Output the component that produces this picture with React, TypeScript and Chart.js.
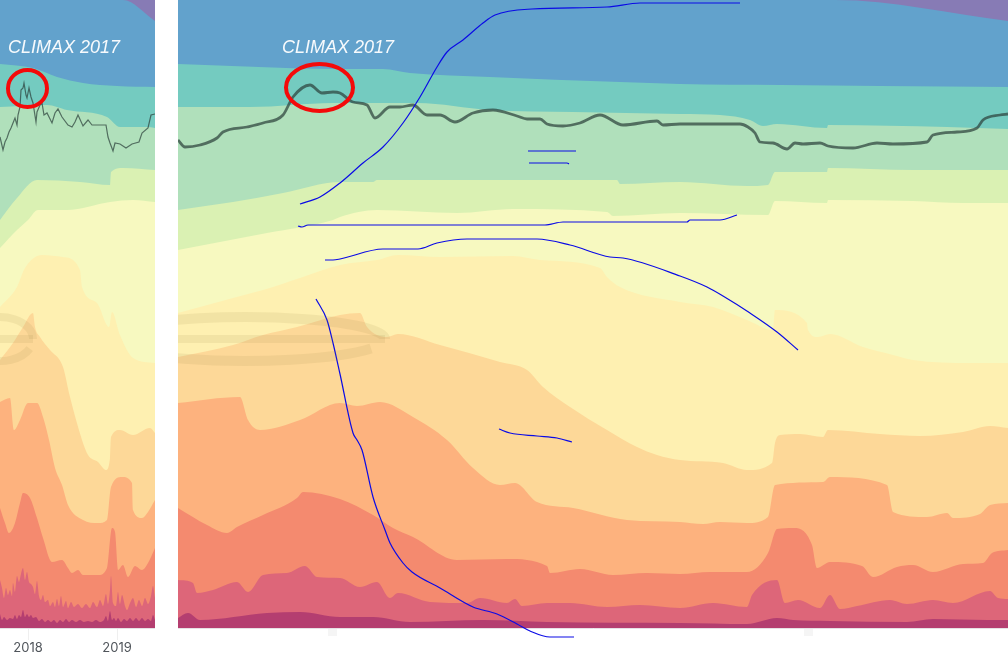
import React, { useEffect, useRef } from "react";
import { Chart, registerables } from "chart.js";

Chart.register(...registerables);

type Pt = [number, number];

const bandColors = ["#b43e70", "#dd6679", "#f48a6f", "#fdb27e", "#fdd898", "#fef0b1", "#f7f9c0", "#daf1b3", "#b0e0bb", "#74cbc0", "#62a2cc", "#877bb5"];
const bandNames = ["1d", "1w", "1m", "3m", "6m", "12m", "18m", "2y", "3y", "5y", "7y", "10y"];

// Left (overview) panel: cumulative share at each time position
const leftMagenta: Pt[] = [[0,14],[2,8],[4,11],[7,8],[10,10],[13,9],[15,13],[17,9],[19,13],[21,11],[23,18],[25,11],[27,14],[29,11],[31,13],[33,10],[36,11],[39,7],[42,9],[45,6],[48,8],[51,6],[54,8],[57,5],[60,8],[63,6],[66,9],[69,6],[72,8],[76,6],[80,8],[84,6],[88,7],[92,6],[96,8],[100,6],[104,8],[106,12],[108,7],[110,17],[112,8],[114,10],[116,7],[118,10],[121,6],[124,9],[127,7],[130,10],[133,7],[136,10],[139,7],[142,10],[145,7],[148,9],[151,7],[153,13],[155,8]];
const leftPink: Pt[] = [[0,48],[2,40],[4,30],[6,40],[8,33],[10,38],[12,32],[13,45],[15,36],[17,52],[19,46],[21,54],[23,60],[25,48],[27,56],[29,46],[31,44],[33,41],[35,34],[37,47],[39,32],[41,28],[43,33],[45,26],[48,28],[50,22],[53,26],[55,21],[57,29],[59,22],[61,32],[63,21],[66,27],[68,20],[71,26],[74,21],[78,24],[82,20],[86,24],[90,20],[93,26],[97,21],[100,28],[103,22],[106,34],[108,24],[110,38],[111,52],[113,25],[116,22],[118,36],[120,24],[122,33],[125,22],[127,18],[130,25],[133,30],[136,21],[139,28],[142,22],[145,30],[148,24],[151,32],[153,42],[155,30]];
const leftSalmon: Pt[] = [[0,120],[5,105],[9,95],[15,105],[20,125],[23,135],[30,130],[37,110],[43,90],[52,66],[62,68],[68,60],[72,55],[78,58],[83,53],[98,53],[107,60],[112,100],[115,96],[118,58],[123,63],[128,51],[135,62],[142,58],[148,65],[155,80]];
const leftOrange: Pt[] = [[0,226],[10,230],[14,198],[20,208],[28,225],[37,225],[43,211],[49,188],[55,160],[62,143],[68,123],[83,108],[98,105],[107,108],[111,141],[122,151],[132,145],[133,118],[142,110],[148,116],[155,128]];
const leftLightOrange: Pt[] = [[0,268],[13,285],[23,301],[33,315],[35,301],[40,291],[50,278],[63,261],[70,231],[82,188],[88,173],[98,166],[106,158],[110,170],[111,191],[120,198],[133,193],[150,200],[155,195]];
const leftPale: Pt[] = [[0,321],[17,341],[25,360],[42,373],[63,371],[80,358],[82,341],[97,325],[109,301],[112,316],[120,293],[133,270],[155,265]];
const leftYellow: Pt[] = [[0,380],[17,398],[28,408],[38,418],[67,418],[110,426],[133,428],[155,426]];
const leftLightGreen: Pt[] = [[0,408],[17,430],[37,448],[80,446],[110,443],[111,456],[123,460],[155,458]];
const leftGreen: Pt[] = [[0,521],[47,523],[67,518],[107,511],[120,501],[147,501],[155,500]];
const leftTeal: Pt[] = [[0,564],[33,560],[57,551],[83,545],[117,542],[155,541]];
const leftBlue: Pt[] = [[0,628],[122,628],[123,628],[155,607]];
const leftPurple: Pt[] = [[0,628],[155,628]];
const leftPrice: Pt[] = [[0,491],[3,478],[5,486],[7,490],[9,496],[11,500],[13,505],[15,510],[17,503],[18,513],[20,521],[21,538],[23,540],[24,545],[26,533],[27,530],[29,540],[31,531],[33,525],[36,506],[37,516],[40,523],[42,525],[44,513],[47,515],[52,505],[55,515],[58,519],[62,511],[68,503],[72,501],[75,506],[78,513],[83,502],[88,508],[92,503],[106,503],[108,491],[110,485],[113,477],[115,485],[120,484],[126,480],[132,484],[139,486],[142,495],[148,500],[151,513],[155,514]];

// Right (zoomed) panel
const rightMagenta: Pt[] = [[178,10],[188,15],[200,8],[267,15],[300,16],[340,11],[373,11],[410,6],[483,8],[547,6],[680,5],[747,4],[777,10],[793,8],[830,7],[907,6],[933,9],[987,8],[1008,8]];
const rightPink: Pt[] = [[178,48],[193,45],[197,35],[213,38],[237,46],[248,36],[263,53],[287,55],[305,62],[317,51],[340,50],[360,41],[377,46],[390,30],[398,35],[430,26],[467,25],[480,30],[507,25],[515,29],[522,22],[547,25],[570,25],[607,21],[640,23],[680,20],[713,25],[747,21],[752,33],[777,48],[785,25],[798,28],[820,20],[830,33],[840,19],[857,22],[890,28],[907,24],[933,28],[953,25],[990,37],[998,30],[1008,29]];
const rightSalmon: Pt[] = [[178,120],[207,103],[227,95],[237,101],[263,113],[297,130],[303,136],[340,129],[373,113],[393,100],[413,91],[457,68],[507,69],[547,62],[550,55],[580,59],[613,53],[647,55],[680,54],[710,56],[747,56],[768,75],[777,99],[793,100],[812,83],[817,60],[830,66],[862,62],[873,51],[897,61],[913,63],[933,56],[963,64],[983,65],[992,75],[1008,78]];
const rightOrange: Pt[] = [[178,225],[240,231],[248,208],[260,198],[300,208],[340,225],[357,222],[380,226],[413,211],[447,188],[473,160],[500,143],[515,145],[537,126],[573,120],[627,108],[680,106],[703,104],[720,106],[747,105],[768,111],[775,143],[823,146],[830,151],[887,143],[893,116],[927,111],[947,115],[953,110],[980,114],[990,123],[1008,125]];
const rightLightOrange: Pt[] = [[178,271],[233,283],[263,293],[297,301],[340,313],[360,315],[367,301],[387,291],[398,294],[440,283],[500,266],[527,258],[543,241],[570,221],[607,198],[637,181],[657,173],[680,168],[723,165],[747,158],[772,165],[775,185],[780,193],[800,194],[823,191],[828,198],[880,194],[920,192],[963,196],[990,202],[1008,200]];
const rightPale: Pt[] = [[178,315],[233,330],[263,338],[300,350],[340,363],[377,368],[398,373],[440,371],[513,372],[540,368],[600,360],[607,351],[620,341],[680,326],[713,321],[747,308],[773,298],[775,318],[807,305],[808,298],[818,291],[830,294],[863,281],[893,273],[913,268],[970,265],[1008,265]];
const rightYellow: Pt[] = [[178,378],[267,395],[333,408],[340,411],[377,418],[457,415],[513,419],[607,416],[613,412],[680,415],[768,413],[775,427],[827,425],[828,428],[913,427],[963,425],[1008,425]];
const rightLightGreen: Pt[] = [[178,418],[233,426],[283,435],[340,446],[373,446],[377,448],[473,448],[617,448],[620,444],[680,446],[747,442],[768,443],[775,456],[827,456],[828,460],[913,458],[1008,458]];
const rightGreen: Pt[] = [[178,521],[250,521],[333,525],[417,525],[490,518],[573,516],[680,514],[720,513],[750,508],[763,502],[777,504],[827,500],[828,503],[947,501],[1008,499]];
const rightTeal: Pt[] = [[178,564],[340,559],[383,559],[410,555],[490,551],[620,546],[680,544],[780,543],[880,542],[1008,541]];
const rightBlue: Pt[] = [[178,628],[835,628],[1008,607]];
const rightPurple: Pt[] = [[178,628],[1008,628]];
const rightPrice: Pt[] = [[178,488],[185,481],[200,483],[217,490],[223,496],[247,501],[263,505],[283,513],[293,531],[310,543],[322,535],[333,536],[340,535],[353,526],[367,523],[375,510],[390,521],[400,521],[413,523],[427,513],[440,513],[455,506],[473,515],[493,518],[517,512],[527,509],[540,509],[547,504],[563,502],[580,505],[600,513],[623,503],[657,507],[663,503],[680,504],[740,504],[748,501],[755,495],[760,486],[773,485],[787,479],[795,485],[803,484],[820,485],[828,482],[853,480],[877,485],[893,484],[927,486],[933,493],[957,496],[977,500],[983,508],[1000,513],[1008,514]];

// Hand-drawn blue traces on the right panel
const traceA: Pt[] = [[300,424],[320,431],[340,445],[363,465],[383,481],[403,505],[420,531],[437,561],[447,576],[463,588],[483,605],[495,613],[532,619],[607,621],[640,625],[680,625],[740,625]];
const traceB: Pt[] = [[298,402],[302,401],[308,403],[545,403],[563,406],[687,406],[690,408],[720,408],[737,413]];
const traceC: Pt[] = [[325,368],[333,368],[340,369],[383,379],[418,379],[437,385],[467,389],[537,389],[570,383],[610,371],[623,370],[680,352],[707,341],[723,332],[750,315],[777,296],[798,278]];
const traceD: Pt[] = [[316,329],[327,308],[333,285],[340,254],[353,195],[357,188],[362,178],[373,131],[385,98],[390,85],[403,65],[412,56],[440,40],[473,21],[497,14],[517,4],[530,-3],[550,-9],[574,-9]];
const traceE: Pt[] = [[499,199],[510,195],[537,192],[557,190],[572,186]];
const traceF: Pt[] = [[528,477],[576,477]];
const traceG: Pt[] = [[529,465],[567,465],[569,464]];

const leftTicks = [28, 117];
const leftTickLabels = ["2018", "2019"];
const rightTicks = [332, 808];
const annotationText = "CLIMAX 2017";

const toXY = (s: Pt[]) => s.map(([x, y]) => ({ x, y }));

function bandSets(series: Pt[][]) {
  return series.map((s, i) => ({
    label: bandNames[i],
    data: toXY(s),
    backgroundColor: bandColors[i],
    borderWidth: 0,
    fill: "origin",
    pointRadius: 0,
    cubicInterpolationMode: "monotone",
  }));
}

const overlayPlugin = {
  id: "overlay",
  afterDatasetsDraw(chart: any, _a: any, opts: any) {
    const { ctx, chartArea, scales } = chart;
    const px = (v: number) => scales.x.getPixelForValue(v);
    const py = (v: number) => scales.y.getPixelForValue(v);
    ctx.save();
    ctx.beginPath();
    ctx.rect(chartArea.left, chartArea.top, chartArea.width, chartArea.height);
    ctx.clip();
    const m = opts.mark;
    const cx = px(m.x);
    const cy = py(m.y);
    ctx.strokeStyle = "rgba(150,125,60,0.11)";
    ctx.lineWidth = m.w;
    ctx.beginPath();
    ctx.ellipse(cx, cy, m.rx, m.ry, 0, 0.45, Math.PI * 2);
    ctx.stroke();
    ctx.lineWidth = 8;
    ctx.beginPath();
    ctx.moveTo(cx - m.rx, cy);
    ctx.lineTo(cx + m.rx, cy);
    ctx.stroke();
    const r = opts.ring;
    ctx.strokeStyle = "#f40a0a";
    ctx.lineWidth = 4;
    ctx.beginPath();
    ctx.ellipse(px(r.x), py(r.y), r.rx, r.ry, 0, 0, Math.PI * 2);
    ctx.stroke();
    ctx.restore();
  },
};

function makeChart(canvas: HTMLCanvasElement, cfg: any) {
  return new Chart(canvas, {
    type: "line",
    data: { datasets: cfg.datasets },
    plugins: [overlayPlugin],
    options: {
      animation: false,
      responsive: false,
      parsing: true,
      layout: { padding: 0 },
      plugins: {
        legend: { display: false },
        tooltip: { enabled: false },
        overlay: { mark: cfg.mark, ring: cfg.ring },
      } as any,
      scales: {
        x: {
          type: "linear",
          min: cfg.min,
          max: cfg.max,
          afterBuildTicks(scale: any) {
            scale.ticks = cfg.ticks.map((value: number) => ({ value }));
          },
          afterFit(scale: any) {
            scale.height = 35;
          },
          grid: {
            drawOnChartArea: false,
            drawTicks: true,
            tickLength: cfg.tickLength,
            tickWidth: cfg.tickWidth,
            tickColor: cfg.tickColor,
          },
          border: { color: "#e6e1e6", width: 1 },
          ticks: {
            autoSkip: false,
            maxRotation: 0,
            padding: 0,
            color: "#50555b",
            font: { family: "Inter", size: 13 },
            callback: (v: number) => {
              const i = cfg.ticks.indexOf(v);
              return cfg.labels ? cfg.labels[i] : "";
            },
          },
        },
        y: { type: "linear", min: 0, max: 628, display: false },
      },
    } as any,
  });
}

const lineSet = (s: Pt[], color: string, width: number, smooth: boolean, clip?: boolean) => ({
  data: toXY(s),
  borderColor: color,
  borderWidth: width,
  fill: false,
  pointRadius: 0,
  ...(smooth ? { cubicInterpolationMode: "monotone" } : { tension: 0 }),
  ...(clip === false ? { clip: false } : {}),
});

const labelStyle = (left: number): React.CSSProperties => ({
  position: "absolute",
  left,
  top: 37,
  font: "italic 18px/20px 'Liberation Sans'",
  color: "rgba(255,255,255,0.95)",
  whiteSpace: "nowrap",
});

const BLUE = "#0a0ae6";

export default function App() {
  const leftRef = useRef<HTMLCanvasElement>(null);
  const rightRef = useRef<HTMLCanvasElement>(null);
  useEffect(() => {
    const left = makeChart(leftRef.current!, {
      min: 0,
      max: 155,
      ticks: leftTicks,
      labels: leftTickLabels,
      tickLength: 12,
      tickWidth: 1,
      tickColor: "#efefef",
      mark: { x: 0, y: 289, rx: 33, ry: 22, w: 8 },
      ring: { x: 27.5, y: 539.5, rx: 19.5, ry: 18.5 },
      datasets: [
        lineSet(leftPrice, "rgba(45,65,60,0.72)", 1.2, false),
        ...bandSets([leftMagenta, leftPink, leftSalmon, leftOrange, leftLightOrange, leftPale, leftYellow, leftLightGreen, leftGreen, leftTeal, leftBlue, leftPurple]),
      ],
    });
    const right = makeChart(rightRef.current!, {
      min: 178,
      max: 1008,
      ticks: rightTicks,
      labels: null,
      tickLength: 8,
      tickWidth: 9,
      tickColor: "#f5f5f5",
      mark: { x: 245, y: 289, rx: 140, ry: 22, w: 10 },
      ring: { x: 319.5, y: 540.5, rx: 33.5, ry: 23.5 },
      datasets: [
        lineSet(traceA, BLUE, 1.2, true),
        lineSet(traceB, BLUE, 1.2, true),
        lineSet(traceC, BLUE, 1.2, true),
        lineSet(traceD, BLUE, 1.2, true, false),
        lineSet(traceE, BLUE, 1.2, true),
        lineSet(traceF, BLUE, 1.2, true),
        lineSet(traceG, BLUE, 1.2, true),
        lineSet(rightPrice, "rgba(45,65,60,0.72)", 2.8, true),
        ...bandSets([rightMagenta, rightPink, rightSalmon, rightOrange, rightLightOrange, rightPale, rightYellow, rightLightGreen, rightGreen, rightTeal, rightBlue, rightPurple]),
      ],
    });
    return () => {
      left.destroy();
      right.destroy();
    };
  }, []);
  return (
    <div style={{ position: "absolute", left: 0, top: 0, width: 1008, height: 663, overflow: "hidden", background: "#fff" }}>
      <canvas ref={leftRef} width={155} height={663} style={{ position: "absolute", left: 0, top: 0, display: "block" }} />
      <canvas ref={rightRef} width={830} height={663} style={{ position: "absolute", left: 178, top: 0, display: "block" }} />
      <div style={labelStyle(8)}>{annotationText}</div>
      <div style={labelStyle(282)}>{annotationText}</div>
    </div>
  );
}
